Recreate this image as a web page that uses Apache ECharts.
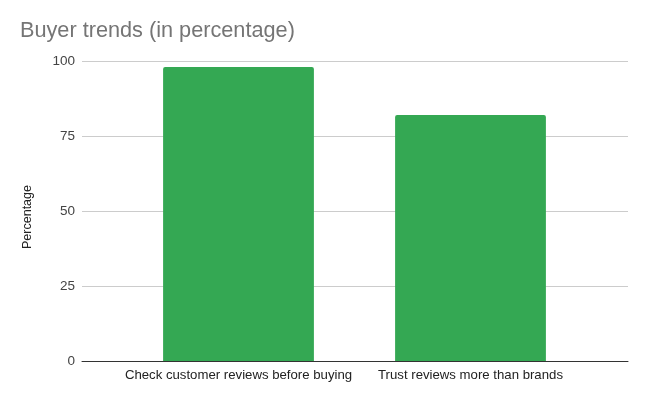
<!DOCTYPE html>
<html><head><meta charset="utf-8">
<script src="https://cdn.jsdelivr.net/npm/echarts@6/dist/echarts.min.js"></script>
<style>html,body{margin:0;padding:0;background:#fff}#c{width:648px;height:401px}</style>
</head><body><div id="c"></div>
<script>
const categories = ["Check customer reviews before buying", "Trust reviews more than brands"];
const values = [98, 82];
const yTicks = [0, 25, 50, 75, 100];

const FONT = 'Liberation Sans, Arial, sans-serif';
const chart = echarts.init(document.getElementById('c'), null, {renderer: 'canvas'});
chart.setOption({
  animation: false,
  backgroundColor: '#fff',
  textStyle: {fontFamily: FONT},
  title: {
    text: 'Buyer trends (in percentage)',
    left: 15, top: 15,
    textStyle: {fontSize: 21.7, fontWeight: 'normal', color: '#757575', fontFamily: FONT}
  },
  grid: [
    {left: 82, right: 20, top: 61, bottom: 40},
    {left: 122.5, right: 61.5, top: 61, bottom: 40}
  ],
  xAxis: [{
    gridIndex: 0,
    type: 'value', min: 0, max: 1,
    axisTick: {show: false},
    axisLabel: {show: false},
    splitLine: {show: false},
    axisLine: {show: true, lineStyle: {color: '#333', width: 1}}
  }, {
    gridIndex: 1,
    type: 'category',
    data: categories,
    axisTick: {show: false},
    axisLine: {show: false},
    axisLabel: {color: '#222', fontSize: 13.2, margin: 8, fontFamily: FONT, interval: 0, hideOverlap: false}
  }],
  yAxis: [{
    gridIndex: 0,
    type: 'value',
    min: yTicks[0], max: yTicks[yTicks.length - 1], interval: 25,
    name: 'Percentage',
    nameLocation: 'middle',
    nameGap: 48,
    nameTextStyle: {color: '#222', fontSize: 12.5, fontFamily: FONT, padding: [0, 12, 0, 0]},
    axisLine: {show: false},
    axisTick: {show: false},
    axisLabel: {color: '#444', fontSize: 13.5, margin: 7, fontFamily: FONT},
    splitLine: {lineStyle: {color: '#ccc', width: 1}}
  }, {
    gridIndex: 1,
    type: 'value',
    min: yTicks[0], max: yTicks[yTicks.length - 1], interval: 25,
    axisLine: {show: false}, axisTick: {show: false},
    axisLabel: {show: false}, splitLine: {show: false}
  }],
  series: [{
    type: 'bar',
    xAxisIndex: 1, yAxisIndex: 1,
    data: values,
    barWidth: '65%',
    itemStyle: {color: '#34a853', borderRadius: [2, 2, 0, 0]},
    z: 1
  }]
});
</script></body></html>
